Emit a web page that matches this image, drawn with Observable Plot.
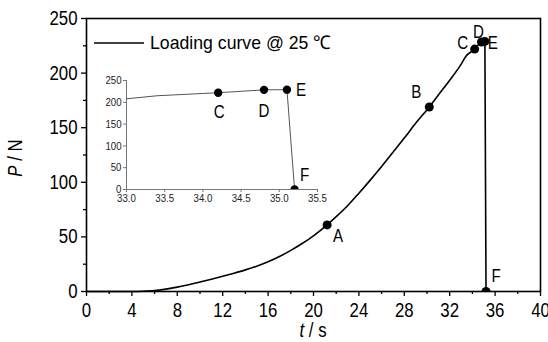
<!DOCTYPE html>
<html>
<head>
<meta charset="utf-8">
<script src="https://cdn.jsdelivr.net/npm/d3@7"></script>
<script src="https://cdn.jsdelivr.net/npm/@observablehq/plot@0.6"></script>
<style>
  body { margin: 0; background: #fff; }
  #chart { position: relative; width: 548px; height: 342px; }
  #chart svg { position: absolute; left: 0; top: 0; overflow: visible; background: transparent; }
</style>
</head>
<body>
<div id="chart"></div>
<script>
// Loading curve: time (s) and load (N)
const timeS = [0, 2, 4, 5, 6, 7, 8, 9, 10, 11, 12, 13, 14, 15, 16, 17, 18, 19, 20, 21.2, 22, 23, 24, 25, 26, 27, 28, 29, 30.2, 31, 32, 33, 33.4, 34.2, 34.8, 35.1, 35.2];
const loadN = [0, 0, 0, 0.2, 0.8, 2.2, 4, 6.2, 8.7, 11.3, 14, 16.8, 19.8, 23.2, 27.2, 32, 37.7, 44, 51, 61, 68.5, 78.5, 90, 102, 114.5, 127.5, 140.5, 154, 169, 180, 193.5, 208, 215, 222, 228.5, 229, 0];

// Marked stages on the curve
const pointNames = ["A", "B", "C", "D", "E", "F"];
const pointT = [21.2, 30.2, 34.2, 34.8, 35.1, 35.2];
const pointP = [61, 169, 222, 228.5, 229, 0];

// Tick values
const xTicks = [0, 4, 8, 12, 16, 20, 24, 28, 32, 36, 40];
const xMinorTicks = [2, 6, 10, 14, 18, 22, 26, 30, 34, 38];
const yTicks = [0, 50, 100, 150, 200, 250];
const yMinorTicks = [25, 75, 125, 175, 225];
const insetXTicks = [33.0, 33.5, 34.0, 34.5, 35.0, 35.5];
const insetYTicks = [0, 50, 100, 150, 200, 250];
const insetPoints = ["C", "D", "E", "F"];

const legendLabel = "Loading curve @ 25 \u2103";

const FONT = '"Liberation Sans", Arial, sans-serif';

const curve = timeS.map((t, i) => ({t, p: loadN[i]}));
const points = pointNames.map((n, i) => ({n, t: pointT[i], p: pointP[i]}));

// label offsets around each dot (px)
const mainOffsets = {A: [11, 11], B: [-13, -15], C: [-12, -6], D: [-3, -10], E: [8, 2], F: [10, -15]};
const insetOffsets = {C: [1, 20], D: [0, 21], E: [14, 1], F: [10, -14]};

const main = Plot.plot({
  width: 548,
  height: 342,
  marginLeft: 86,
  marginRight: 8,
  marginTop: 18,
  marginBottom: 51,
  style: {fontFamily: FONT, fontSize: "20px", color: "#000", background: "transparent"},
  x: {domain: [0, 40]},
  y: {domain: [0, 250]},
  marks: [
    Plot.axisX(xTicks, {tickSize: 5, tickPadding: 6, fontSize: 20, strokeWidth: 1.3, label: null}),
    Plot.axisX(xMinorTicks, {tickSize: 3, text: null, strokeWidth: 1.3, label: null}),
    Plot.axisY(yTicks, {tickSize: 5, tickPadding: 4, fontSize: 20, strokeWidth: 1.3, label: null}),
    Plot.axisY(yMinorTicks, {tickSize: 3, text: null, strokeWidth: 1.3, label: null}),
    Plot.line(curve, {x: "t", y: "p", stroke: "#000", strokeWidth: 1.6, curve: "monotone-x"}),
    Plot.dot(points, {x: "t", y: "p", r: 4.5, fill: "#000", clip: true}),
    ...points.map(d => Plot.text([d], {
      x: "t", y: "p", text: "n", fontSize: 18, fill: "#000",
      dx: mainOffsets[d.n][0], dy: mainOffsets[d.n][1]
    })),
    Plot.frame({stroke: "#000", strokeWidth: 1.6})
  ]
});

const svg = d3.select(main);
// y-axis title
const yTitle = svg.append("text")
  .attr("transform", "translate(22,158) rotate(-90)")
  .attr("text-anchor", "middle")
  .attr("font-size", 20)
  .attr("fill", "#000");
yTitle.append("tspan").attr("font-style", "italic").text("P");
yTitle.append("tspan").text(" / N");
// x-axis title
const xTitle = svg.append("text")
  .attr("x", 313).attr("y", 337)
  .attr("text-anchor", "middle")
  .attr("font-size", 20)
  .attr("fill", "#000");
xTitle.append("tspan").attr("font-style", "italic").text("t");
xTitle.append("tspan").text(" / s");
// legend
svg.append("line")
  .attr("x1", 94).attr("x2", 144).attr("y1", 43).attr("y2", 43)
  .attr("stroke", "#000").attr("stroke-width", 1.6);
svg.append("text")
  .attr("class", "legend-label")
  .attr("x", 150).attr("y", 49)
  .attr("text-anchor", "start")
  .attr("font-size", 19)
  .attr("fill", "#000")
  .text(legendLabel);

// inset: close-up of the final stage
const insetCurve = curve.filter(d => d.t >= 33);
const insetDots = points.filter(d => insetPoints.includes(d.n));

const inset = Plot.plot({
  width: 240,
  height: 140,
  marginLeft: 30,
  marginRight: 19,
  marginTop: 10,
  marginBottom: 21,
  style: {fontFamily: FONT, fontSize: "11px", color: "#222", background: "transparent"},
  x: {domain: [33, 35.5]},
  y: {domain: [0, 250]},
  marks: [
    Plot.axisX(insetXTicks, {tickSize: 3, tickPadding: 1, fontSize: 11.5, tickFormat: d3.format(".1f"), stroke: "#777", label: null}),
    Plot.axisY(insetYTicks, {tickSize: 3, tickPadding: 2, fontSize: 11.5, stroke: "#777", label: null}),
    Plot.ruleY([0], {stroke: "#777"}),
    Plot.ruleX([33], {stroke: "#777"}),
    Plot.line(insetCurve, {x: "t", y: "p", stroke: "#555", strokeWidth: 1}),
    Plot.dot(insetDots, {x: "t", y: "p", r: 4.2, fill: "#000", clip: true}),
    ...insetDots.map(d => Plot.text([d], {
      x: "t", y: "p", text: "n", fontSize: 18, fill: "#000",
      dx: insetOffsets[d.n][0], dy: insetOffsets[d.n][1]
    }))
  ]
});
inset.style.left = "96px";
inset.style.top = "70px";

const chart = document.getElementById("chart");
chart.appendChild(main);
chart.appendChild(inset);

// narrow the lettering to a condensed width (legend label spans 181px)
for (const el of chart.querySelectorAll("svg text")) {
  const len = el.getComputedTextLength();
  if (len > 0) {
    const target = el.classList.contains("legend-label") ? 181 : len * 0.84;
    el.setAttribute("textLength", target.toFixed(2));
    el.setAttribute("lengthAdjust", "spacingAndGlyphs");
  }
}
</script>
</body>
</html>
